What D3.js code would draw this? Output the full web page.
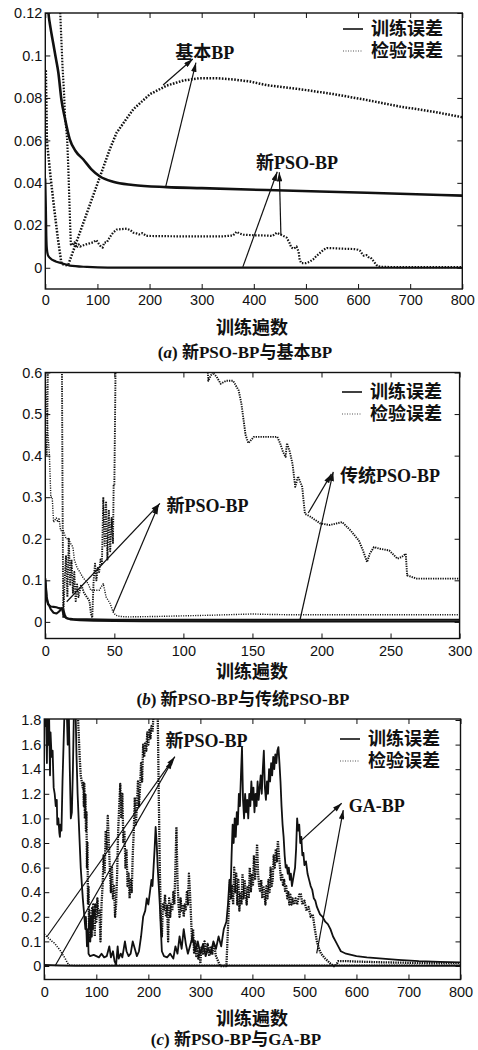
<!DOCTYPE html>
<html>
<head>
<meta charset="utf-8">
<script src="https://cdn.jsdelivr.net/npm/d3@7"></script>
<style>
  body { margin: 0; background: #fff; }
  .cn { font-family: "Liberation Serif", "Noto Sans CJK SC", serif; font-weight: bold; font-size: 18px; fill: #111; }
</style>
</head>
<body>
<svg id="chart" width="478" height="1050"></svg>
<script>
// ---------- (a) 新PSO-BP与基本BP ----------
const aXTicks = [0, 100, 200, 300, 400, 500, 600, 700, 800];
const aYTicks = [0, 0.02, 0.04, 0.06, 0.08, 0.1, 0.12];
const aYLabels = ['0', '0.02', '0.04', '0.06', '0.08', '0.1', '0.12'];

const aBasicTrain = [[3,0.13],[6,0.12],[10,0.113],[15,0.106],[20,0.099],[25,0.092],[31,0.079],[38,0.07],[47,0.0605],[58,0.055],[73,0.051],[88,0.0465],[105,0.043],[130,0.0405],[168,0.039],[233,0.038],[300,0.0375],[425,0.0366],[617,0.0353],[800,0.034]];
const aBasicVal = [[1,0.093],[2.5,0.07],[3,0.06],[10,0.043],[17,0.028],[24,0.014],[31,0.002],[38,0.0012],[44,0.0014],[105,0.043],[124,0.056],[137,0.0637],[169,0.0747],[201,0.0818],[233,0.0858],[265,0.0882],[297,0.0893],[329,0.0893],[361,0.0887],[393,0.0877],[425,0.086],[489,0.0841],[553,0.0818],[617,0.079],[681,0.0759],[745,0.0735],[800,0.0709]];
const aNewTrain = [[0,0.042],[1,0.03],[2,0.015],[3,0.009],[5,0.006],[9,0.0046],[20,0.003],[31,0.0022],[47,0.001],[80,0.0004],[120,0.0001],[800,0]];
const aNewVal = [[27,0.13],[30,0.112],[33,0.095],[36,0.082],[38,0.07],[40,0.066],[42,0.06],[44,0.048],[46,0.033],[48,0.018],[49,0.011],[50,0.0117],[53,0.0105],[56,0.012],[60,0.0095],[64,0.011],[67,0.01],[72,0.0105],[78,0.011],[85,0.0115],[92,0.012],[98,0.013],[102,0.0115],[105,0.0104],[110,0.0095],[113,0.0118],[118,0.012],[124,0.0145],[130,0.0165],[137,0.018],[146,0.0182],[156,0.0184],[163,0.0178],[169,0.0165],[175,0.0162],[180,0.0157],[186,0.0163],[194,0.015],[220,0.0149],[260,0.0148],[300,0.0148],[340,0.0148],[360,0.0152],[367,0.017],[372,0.0162],[380,0.0156],[400,0.0153],[420,0.0152],[436,0.015],[444,0.0165],[450,0.0158],[456,0.0151],[463,0.0142],[468,0.012],[472,0.0095],[477,0.009],[482,0.01],[486,0.0075],[488,0.0038],[491,0.0022],[500,0.0022],[507,0.0028],[514,0.004],[520,0.0055],[527,0.007],[534,0.0085],[540,0.0093],[553,0.0092],[570,0.009],[592,0.0088],[600,0.0085],[604,0.008],[608,0.0065],[611,0.0057],[616,0.006],[620,0.005],[624,0.0049],[630,0.003],[637,0.0008],[645,0.0004],[700,0.0003],[800,0.0003]];

const aNotes = [
  { text: '基本BP', at: [306, 0.1016], tails: [[231, 0.0382], [226, 0.0861]], heads: [[289, 0.0966], [283, 0.0983]] },
  { text: '新PSO-BP', at: [483, 0.0498], tails: [[379, 0.0004], [452, 0.0154]], heads: [[445, 0.0452], [449, 0.045]] }
];

// ---------- (b) 新PSO-BP与传统PSO-BP ----------
const bXTicks = [0, 50, 100, 150, 200, 250, 300];
const bYTicks = [0, 0.1, 0.2, 0.3, 0.4, 0.5, 0.6];
const bYLabels = ['0', '0.1', '0.2', '0.3', '0.4', '0.5', '0.6'];

const bNewTrain = [[0,0.105],[1,0.06],[2,0.045],[4,0.03],[6,0.022],[8,0.02],[10,0.025],[12,0.033],[13,0.03],[14,0.018],[15,0.01],[18,0.006],[25,0.004],[35,0.003],[50,0.002],[70,0.0015],[300,0.001]];
const bTradTrain = [[0,0.1],[1,0.055],[2,0.042],[4,0.037],[6,0.036],[8,0.035],[10,0.033],[12,0.032],[13,0.02],[14,0.012],[16,0.008],[20,0.007],[30,0.006],[50,0.005],[300,0.005]];
const bNewVal = [[0,0.6],[1,0.52],[2,0.45],[3,0.4],[4,0.3],[5,0.3],[6,0.24],[8,0.25],[9,0.24],[10,0.25],[11,0.22],[13,0.22],[15,0.2],[17,0.2],[18,0.19],[20,0.18],[21,0.15],[23,0.13],[25,0.12],[27,0.108],[29,0.1],[31,0.092],[33,0.076],[36,0.076],[39,0.076],[42,0.092],[44,0.06],[47,0.044],[49,0.024],[51,0.016],[54,0.013],[60,0.012],[80,0.013],[100,0.0145],[120,0.016],[140,0.018],[150,0.019],[160,0.018],[180,0.017],[200,0.017],[240,0.017],[300,0.017]];
const bTradVal = [[0,0.45],[1,0.4],[1.5,0.5],[2,0.65],[12,0.65],[12.5,0.3],[13,0.01],[14,0.1],[15,0.16],[16,0.06],[17,0.2],[18,0.09],[19,0.15],[20,0.07],[21,0.12],[22,0.05],[23,0.09],[24,0.06],[26,0.09],[28,0.07],[30,0.06],[32,0.05],[33,0.02],[34,0.01],[35,0.1],[36,0.14],[37,0.1],[38,0.13],[39,0.12],[40,0.15],[41,0.14],[42,0.3],[43,0.18],[44,0.29],[45,0.15],[46,0.27],[47,0.17],[48,0.25],[49,0.19],[49.5,0.33],[50,0.33],[51,0.65],[117,0.65],[118,0.58],[121,0.6],[124,0.59],[127,0.573],[131,0.58],[136,0.58],[140,0.557],[142,0.525],[145,0.45],[147,0.43],[151,0.445],[160,0.445],[168,0.445],[170,0.43],[172,0.41],[174,0.397],[175,0.43],[177,0.41],[179,0.38],[181,0.325],[183,0.35],[186,0.325],[188,0.26],[192,0.253],[199,0.237],[206,0.233],[215,0.24],[221,0.22],[227,0.196],[230,0.172],[233,0.144],[235,0.164],[238,0.18],[242,0.176],[249,0.172],[255,0.152],[258,0.156],[261,0.164],[262,0.112],[269,0.104],[279,0.104],[300,0.104]];

const bNotes = [
  { text: '新PSO-BP', at: [117.5, 0.281], tails: [[15.5, 0.0485], [49.2, 0.0245]], heads: [[83, 0.285], [82, 0.281]] },
  { text: '传统PSO-BP', at: [249.6, 0.351], tails: [[184.4, 0.0045], [190.4, 0.2618]], heads: [[208.5, 0.361], [207.2, 0.356]] }
];

// ---------- (c) 新PSO-BP与GA-BP ----------
const cXTicks = [0, 100, 200, 300, 400, 500, 600, 700, 800];
const cYTicks = [0, 0.1, 0.2, 0.4, 0.6, 0.8, 1.0, 1.2, 1.4, 1.6, 1.8];
const cYLabels = ['0', '0.1', '0.2', '0.4', '0.6', '0.8', '1.0', '1.2', '1.4', '1.6', '1.8'];

const cGATrain = [[0,1.9],[2,1.75],[3,1.9],[5,1.45],[6,1.85],[8,1.6],[9,1.9],[11,1.35],[12,1.7],[14,1.5],[16,1.55],[18,1.25],[20,1.2],[22,1.1],[24,1.15],[25,0.95],[27,1.0],[29,0.88],[30,0.85],[31,0.95],[33,0.9],[35,1.3],[37,1.6],[39,1.9],[43,1.9],[45,1.6],[47,1.9],[49,1.4],[51,1.0],[53,1.05],[55,1.4],[57,1.9],[60,1.9],[62,1.5],[64,1.2],[66,1.0],[70,0.6],[74,0.35],[77,0.2],[79,0.15],[80,0.2],[82,0.08],[84,0.15],[85,0.05],[88,0.04],[95,0.045],[100,0.04],[105,0.035],[110,0.05],[115,0.035],[120,0.04],[125,0.08],[128,0.035],[132,0.06],[135,0.02],[138,0.005],[141,0.08],[143,0.03],[147,0.05],[150,0.035],[155,0.1],[158,0.06],[162,0.04],[166,0.05],[170,0.1],[174,0.07],[178,0.04],[182,0.06],[186,0.12],[190,0.2],[194,0.25],[197,0.35],[200,0.3],[203,0.4],[206,0.5],[208,0.45],[210,0.6],[212,0.75],[214,0.93],[216,0.8],[218,0.6],[220,0.45],[222,0.3],[224,0.15],[226,0.06],[230,0.04],[236,0.035],[242,0.05],[248,0.03],[252,0.08],[256,0.05],[260,0.12],[264,0.07],[268,0.15],[272,0.09],[276,0.05],[280,0.08],[285,0.12],[290,0.06],[295,0.1],[300,0.05],[305,0.09],[310,0.04],[315,0.07],[320,0.05],[325,0.1],[330,0.07],[335,0.12],[340,0.08],[345,0.15],[350,0.18],[353,0.3],[356,0.5],[358,0.4],[360,0.7],[362,0.95],[364,0.8],[366,1.0],[368,0.85],[370,1.05],[372,0.95],[374,1.2],[376,1.1],[378,1.35],[380,1.58],[382,1.15],[384,1.0],[386,1.2],[388,1.05],[390,1.15],[392,1.0],[394,1.2],[396,1.1],[398,1.3],[400,1.15],[402,1.25],[404,1.05],[406,1.2],[408,1.1],[410,1.3],[412,1.15],[414,1.25],[416,1.35],[418,1.2],[420,1.4],[422,1.55],[424,1.25],[426,1.15],[428,1.3],[430,1.2],[432,1.4],[434,1.3],[436,1.45],[438,1.35],[440,1.5],[442,1.4],[444,1.52],[446,1.45],[448,1.55],[450,1.58],[452,1.45],[454,1.3],[456,1.1],[458,0.95],[460,0.85],[462,0.7],[464,0.6],[466,0.62],[468,0.55],[470,0.6],[472,0.5],[474,0.55],[476,0.45],[478,0.5],[480,0.55],[482,0.6],[484,0.75],[486,1.0],[488,0.9],[490,0.95],[492,0.8],[494,0.85],[496,0.7],[498,0.72],[500,0.62],[503,0.65],[506,0.55],[509,0.5],[512,0.45],[515,0.42],[518,0.35],[521,0.33],[524,0.28],[527,0.25],[530,0.22],[535,0.2],[540,0.18],[545,0.17],[550,0.15],[555,0.12],[560,0.1],[565,0.08],[570,0.06],[580,0.05],[590,0.045],[600,0.04],[620,0.035],[650,0.03],[680,0.025],[720,0.02],[760,0.017],[800,0.015]];
const cGAVal = [[0,1.9],[64,1.9],[66,1.7],[68,1.5],[70,1.35],[72,1.3],[74,1.25],[75,1.3],[76,1.1],[77,1.28],[78,1.0],[79,1.2],[80,0.9],[81,1.05],[82,0.6],[83,0.8],[84,0.3],[85,0.45],[86,0.15],[87,0.25],[88,0.1],[90,0.2],[91,0.12],[92,0.28],[93,0.15],[94,0.3],[95,0.2],[96,0.25],[97,0.12],[98,0.3],[100,0.18],[102,0.35],[104,0.2],[106,0.25],[108,0.1],[110,0.3],[112,0.45],[114,0.7],[116,0.55],[118,0.9],[120,0.75],[122,1.02],[124,0.8],[126,0.6],[128,0.4],[130,0.6],[132,0.35],[134,0.45],[136,0.2],[138,0.3],[140,0.55],[142,0.9],[144,1.1],[146,1.28],[148,1.0],[150,1.2],[152,0.8],[154,0.9],[156,0.6],[158,0.75],[160,0.45],[162,0.55],[164,0.35],[166,0.5],[168,0.4],[170,0.7],[172,0.9],[174,1.17],[176,0.95],[178,1.1],[180,1.3],[182,1.1],[184,1.25],[186,1.45],[188,1.3],[190,1.6],[192,1.5],[194,1.62],[196,1.55],[198,1.7],[200,1.6],[202,1.72],[204,1.65],[206,1.75],[208,1.7],[210,1.85],[218,1.85],[220,1.2],[222,0.6],[224,0.2],[226,0.12],[228,0.3],[230,0.25],[232,0.38],[234,0.2],[236,0.3],[238,0.1],[240,0.35],[242,0.2],[244,0.3],[246,0.25],[248,0.4],[250,0.3],[252,0.6],[254,0.93],[256,0.5],[258,0.3],[260,0.2],[262,0.35],[264,0.25],[266,0.3],[268,0.2],[270,0.3],[272,0.25],[274,0.4],[276,0.3],[278,0.55],[280,0.4],[282,0.2],[284,0.1],[286,0.15],[288,0.05],[290,0.1],[292,0.04],[294,0.08],[296,0.03],[298,0.06],[300,0.01],[302,0.08],[305,0.05],[308,0.1],[311,0.06],[314,0.09],[317,0.04],[320,0.08],[323,0.05],[326,0.09],[330,0.04],[334,0.02],[338,0],[350,0],[352,0.1],[355,0.3],[357,0.5],[359,0.35],[361,0.45],[363,0.3],[365,0.6],[367,0.4],[369,0.55],[371,0.3],[373,0.5],[375,0.25],[377,0.4],[379,0.3],[381,0.55],[383,0.35],[385,0.5],[387,0.4],[389,0.3],[391,0.45],[393,0.35],[395,0.6],[397,0.4],[399,0.55],[401,0.45],[403,0.7],[405,0.5],[407,0.6],[409,0.79],[411,0.55],[413,0.45],[415,0.4],[417,0.5],[419,0.35],[421,0.45],[423,0.4],[425,0.3],[427,0.45],[429,0.35],[431,0.5],[433,0.4],[435,0.6],[437,0.45],[439,0.5],[441,0.7],[443,0.6],[445,0.75],[447,0.65],[449,0.82],[451,0.7],[453,0.6],[455,0.5],[457,0.55],[459,0.45],[461,0.5],[463,0.4],[465,0.45],[467,0.35],[469,0.4],[471,0.3],[473,0.38],[475,0.3],[477,0.35],[480,0.3],[483,0.35],[486,0.3],[490,0.38],[493,0.39],[496,0.3],[500,0.33],[504,0.25],[508,0.28],[512,0.2],[516,0.22],[520,0.15],[524,0.1],[528,0.07],[532,0.05],[536,0.04],[540,0.03],[545,0.02],[550,0.01],[556,0],[560,0],[565,0.02],[580,0.02],[600,0.018],[650,0.015],[700,0.013],[750,0.012],[800,0.012]];
const cNewTrain = [[0,0.004],[30,0.002],[60,0.001],[800,0.001]];
const cNewVal = [[0,0.13],[5,0.119],[10,0.11],[15,0.1],[20,0.092],[25,0.078],[30,0.065],[35,0.048],[40,0.031],[44,0.015],[47,0.004],[52,0.003],[100,0.003],[800,0.003]];

const cNotes = [
  { text: '新PSO-BP', at: [312, 1.637], tails: [[5, 0.119], [20.6, 0]], heads: [[251, 1.502], [247, 1.475]] },
  { text: 'GA-BP', at: [639, 1.101], tails: [[491.5, 0.811], [523.6, 0.0516]], heads: [[571.6, 1.123], [574.7, 1.068]] }
];

const legendLabels = ['训练误差', '检验误差'];
const axisTitle = '训练遍数';

const panels = [
  {
    id: 'a', l: 45.3, r: 462.3, t: 13, b: 289,
    xDomain: [0, 800], yDomain: [-0.01, 0.12], yRange: [289, 13],
    xTicks: aXTicks, yTicks: aYTicks, yLabels: aYLabels, xPad: 6,
    series: [
      { data: aBasicTrain, w: 2.6, smooth: true },
      { data: aBasicVal, w: 2.5, dash: '1.6,1.5' },
      { data: aNewTrain, w: 2.2, smooth: true },
      { data: aNewVal, w: 2.2, dash: '1.5,1.5' }
    ],
    notes: aNotes, legX: 343, legY: 29, titleY: 328, capY: 352, capX: 245,
    capTag: 'a', capText: ') 新PSO-BP与基本BP'
  },
  {
    id: 'b', l: 45.3, r: 459.6, t: 372.5, b: 638.5,
    xDomain: [0, 300], yDomain: [-0.04, 0.6], yRange: [638.5, 372.5],
    xTicks: bXTicks, yTicks: bYTicks, yLabels: bYLabels, xPad: 7.5,
    series: [
      { data: bNewTrain, w: 2.1 },
      { data: bTradTrain, w: 2.1 },
      { data: bNewVal, w: 1.4, dash: '1.1,1.3' },
      { data: bTradVal, w: 1.9, dash: '1.3,1.1' }
    ],
    notes: bNotes, legX: 342, legY: 392, titleY: 672, capY: 699, capX: 243,
    capTag: 'b', capText: ') 新PSO-BP与传统PSO-BP'
  },
  {
    id: 'c', l: 44.3, r: 460.5, t: 719, b: 979.5,
    xDomain: [0, 800], yDomain: [-0.055, 0, 0.1, 0.2, 1.8], yRange: [979.5, 966, 941.4, 916.8, 720],
    xTicks: cXTicks, yTicks: cYTicks, yLabels: cYLabels, xPad: 7,
    series: [
      { data: cNewTrain, w: 1.8 },
      { data: cNewVal, w: 1.6, dash: '1.2,1.3' },
      { data: cGAVal, w: 2.3, dash: '1.4,1' },
      { data: cGATrain, w: 1.8 }
    ],
    notes: cNotes, legX: 340, legY: 739, titleY: 1019, capY: 1039, capX: 236,
    capTag: 'c', capText: ') 新PSO-BP与GA-BP'
  }
];

const svg = d3.select('#chart');
svg.append('rect').attr('width', 478).attr('height', 1050).attr('fill', '#fff');

const defs = svg.append('defs');
defs.append('marker')
  .attr('id', 'arrow')
  .attr('viewBox', '0 0 10 6')
  .attr('refX', 10).attr('refY', 3)
  .attr('markerWidth', 10).attr('markerHeight', 5.5)
  .attr('markerUnits', 'userSpaceOnUse')
  .attr('orient', 'auto')
  .append('path').attr('d', 'M0,0L10,3L0,6Z').attr('fill', '#111');

const drawPanel = (p) => {
  const x = d3.scaleLinear().domain(p.xDomain).range([p.l, p.r]);
  const y = d3.scaleLinear().domain(p.yDomain).range(p.yRange);
  const g = svg.append('g').attr('id', 'panel-' + p.id);

  defs.append('clipPath').attr('id', 'clip-' + p.id)
    .append('rect').attr('x', p.l).attr('y', p.t).attr('width', p.r - p.l).attr('height', p.b - p.t);

  // axes with inward ticks, mirrored on top and right
  const clean = sel => {
    sel.select('.domain').remove();
    sel.attr('color', '#111');
    sel.selectAll('text')
      .attr('font-family', 'Liberation Sans, Arial, sans-serif')
      .attr('font-size', 14.5)
      .style('font-family', '"Liberation Sans", Arial, sans-serif')
      .style('font-size', '14.5px');
  };
  g.append('g').attr('transform', `translate(0,${p.b})`)
    .call(d3.axisBottom(x).tickValues(p.xTicks).tickSize(-5).tickPadding(p.xPad).tickFormat(d3.format('d')))
    .call(clean);
  g.append('g').attr('transform', `translate(0,${p.t})`)
    .call(d3.axisTop(x).tickValues(p.xTicks).tickSize(-5).tickFormat(''))
    .call(clean);
  g.append('g').attr('transform', `translate(${p.l},0)`)
    .call(d3.axisLeft(y).tickValues(p.yTicks).tickSize(-5).tickPadding(3).tickFormat((d, i) => p.yLabels[i]))
    .call(clean);
  g.append('g').attr('transform', `translate(${p.r},0)`)
    .call(d3.axisRight(y).tickValues(p.yTicks).tickSize(-5).tickFormat(''))
    .call(clean);

  g.append('rect')
    .attr('x', p.l).attr('y', p.t).attr('width', p.r - p.l).attr('height', p.b - p.t)
    .attr('fill', 'none').attr('stroke', '#111').attr('stroke-width', 1.4);

  // curves
  const plot = g.append('g').attr('clip-path', `url(#clip-${p.id})`);
  p.series.forEach(s => {
    const line = d3.line().x(d => x(d[0])).y(d => y(d[1]))
      .curve(s.smooth ? d3.curveMonotoneX : d3.curveLinear);
    plot.append('path').datum(s.data)
      .attr('fill', 'none').attr('stroke', '#111')
      .attr('stroke-width', s.w)
      .attr('stroke-dasharray', s.dash || null)
      .attr('stroke-linejoin', 'round')
      .attr('d', line);
  });

  // annotations with arrows
  p.notes.forEach(n => {
    n.tails.forEach((t, i) => {
      const h = n.heads[i];
      g.append('line')
        .attr('x1', x(t[0])).attr('y1', y(t[1]))
        .attr('x2', x(h[0])).attr('y2', y(h[1]))
        .attr('stroke', '#111').attr('stroke-width', 1.2)
        .attr('marker-end', 'url(#arrow)');
    });
    g.append('text').attr('class', 'cn')
      .attr('x', x(n.at[0])).attr('y', y(n.at[1]))
      .attr('dy', '0.36em').attr('text-anchor', 'middle')
      .text(n.text);
  });

  // legend
  const leg = g.append('g').attr('transform', `translate(${p.legX},${p.legY})`);
  leg.append('line').attr('x1', 0).attr('x2', 20).attr('y1', 0).attr('y2', 0)
    .attr('stroke', '#111').attr('stroke-width', 1.6);
  leg.append('line').attr('x1', 0).attr('x2', 20).attr('y1', 22).attr('y2', 22)
    .attr('stroke', '#555').attr('stroke-width', 1.2).attr('stroke-dasharray', '1,1.5');
  legendLabels.forEach((lab, i) => {
    leg.append('text').attr('class', 'cn')
      .attr('x', 28).attr('y', i * 22).attr('dy', '0.36em')
      .text(lab);
  });

  // axis title and caption
  g.append('text').attr('class', 'cn')
    .attr('x', 252).attr('y', p.titleY).attr('dy', '0.36em')
    .attr('text-anchor', 'middle').text(axisTitle);
  const cap = g.append('text').attr('class', 'cn')
    .attr('x', p.capX).attr('y', p.capY).attr('dy', '0.36em')
    .attr('text-anchor', 'middle')
    .style('font-size', '17px');
  cap.append('tspan').text('(');
  cap.append('tspan').attr('font-style', 'italic').text(p.capTag);
  cap.append('tspan').text(p.capText);
};

panels.forEach(drawPanel);
</script>
</body>
</html>
